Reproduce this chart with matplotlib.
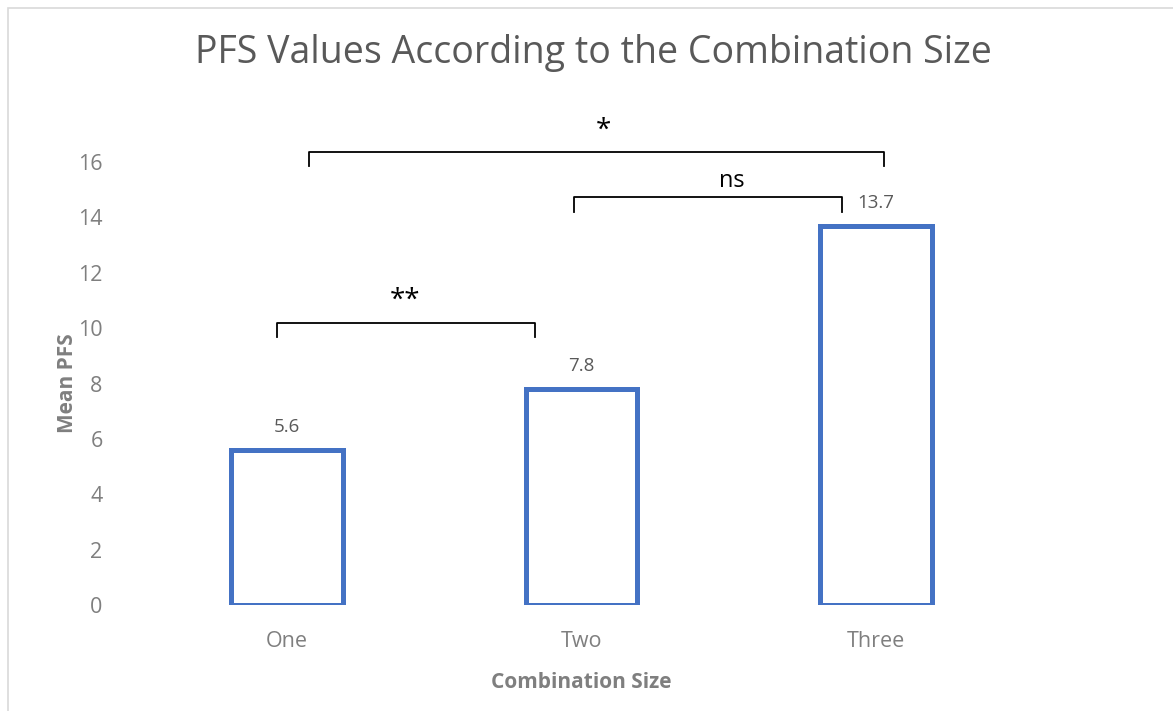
import matplotlib.pyplot as plt
from matplotlib.patches import Rectangle

# Дані
categories = ['One', 'Two', 'Three']
mean_pfs = [5.6, 7.8, 13.7]

# Дужки значущості: (x1, x2, y низ, y верх, підпис, x підпису, y підпису, розмір)
brackets = [
    (-0.034, 0.842, 9.68, 10.18, '**', 0.40, 11.0, 20),
    (0.975, 1.885, 14.19, 14.73, 'ns', 1.51, 15.3, 17),
    (0.075, 2.027, 15.85, 16.36, '*', 1.076, 17.15, 20),
]

plt.rcParams['font.family'] = ['Open Sans', 'DejaVu Sans']

fig = plt.figure(figsize=(11.73, 7.11), dpi=100)
ax = fig.add_axes([0.1194, 0.149, 0.7527, 0.623])

x = list(range(len(categories)))
ax.bar(x, mean_pfs, width=0.38, facecolor='white', edgecolor='#4472C4', linewidth=3.6)

for xi, v in zip(x, mean_pfs):
    ax.text(xi, v + 0.5, f'{v}', ha='center', va='bottom', fontsize=13.5, color='#595959')

for x1, x2, y0, y1, label, tx, ty, fs in brackets:
    ax.plot([x1, x1, x2, x2], [y0, y1, y1, y0], color='black', linewidth=1.3, clip_on=False)
    ax.text(tx, ty, label, ha='center', va='center', fontsize=fs, color='black', clip_on=False)

ax.set_xlim(-0.5, 2.5)
ax.set_ylim(0, 16)
ax.set_yticks(range(0, 17, 2))
ax.set_xticks(x)
ax.set_xticklabels(categories)
ax.tick_params(axis='both', length=0, labelsize=15.5, colors='#7f7f7f')
ax.tick_params(axis='y', pad=27)
ax.tick_params(axis='x', pad=19)
for s in ax.spines.values():
    s.set_visible(False)

ax.set_ylabel('Mean PFS', fontsize=15, fontweight='bold', color='#7f7f7f')
ax.yaxis.set_label_coords(-0.07, 0.5)
ax.set_xlabel('Combination Size', fontsize=15, fontweight='bold', color='#7f7f7f', labelpad=14)

fig.text(0.506, 0.925, 'PFS Values According to the Combination Size', ha='center', va='center',
         fontsize=27, color='#595959')

# рамка діаграми
fig.patches.append(Rectangle((0.007, -0.02), 1.1, 1.0 - 8 / 711 + 0.02, transform=fig.transFigure,
                             fill=False, edgecolor='#d9d9d9', linewidth=1.2))

fig.savefig('out.png', dpi=100)
